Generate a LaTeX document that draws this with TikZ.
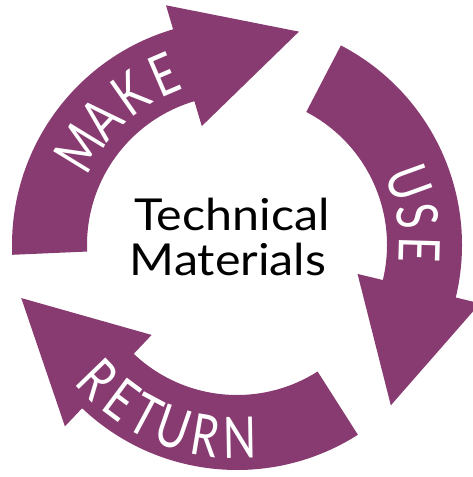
\documentclass[tikz,border=0pt]{standalone}
\usepackage{fontspec}
\setmainfont{Lato}
\definecolor{cyclepurple}{RGB}{136,59,112}
\tikzset{
  arrowband/.style={fill=cyclepurple},
  letter/.style={text=white, inner sep=0pt, font=\fontsize{44}{44}\selectfont},
  centertext/.style={text=black, inner sep=0pt, font=\fontsize{44}{44}\selectfont, anchor=base},
}
\newcommand\cyclearrow[1]{%
  \pgfmathsetmacro\cyctail{#1+76}%
  \pgfmathsetmacro\cyctipx{187*cos(#1)+120*cos(#1-90)}%
  \pgfmathsetmacro\cyctipy{187*sin(#1)+120*sin(#1-90)}%
  \fill[arrowband] (\cyctail:225) arc[start angle=\cyctail, end angle=#1, radius=225]
    -- (#1:250) -- (\cyctipx,\cyctipy) -- (#1:124) -- (#1:150)
    arc[start angle=#1, end angle=\cyctail, radius=150] -- cycle;
}
\begin{document}
\begin{tikzpicture}[x=1pt,y=1pt]
\useasboundingbox[fill=white] (-237,-232) rectangle (236,245);
\cyclearrow{106.5}
\cyclearrow{-13.5}
\cyclearrow{-133.5}
\foreach \a/\l [count=\i] in {148.5/M,137/A,125/K,113.3/E}
  \node[letter, rotate=\a-90] (make\i) at (\a:185) {\scalebox{1}[1.3]{\l}};
\foreach \a/\l [count=\i] in {19.9/U,9.2/S,-1.6/E}
  \node[letter, rotate=\a-90] (use\i) at (\a:183) {\scalebox{1}[1.3]{\l}};
\foreach \a/\l [count=\i] in {224/R,233.3/E,241.8/T,250.9/U,260.5/R,271/N}
  \node[letter, rotate=\a+90] (return\i) at (\a:193) {\scalebox{1}[1.3]{\l}};
\node[centertext] (tech) at (-5,15) {\scalebox{1.1}[1]{Technical}};
\node[centertext] (mat) at (-9,-30) {\scalebox{1.1}[1]{Materials}};
\end{tikzpicture}
\end{document}
